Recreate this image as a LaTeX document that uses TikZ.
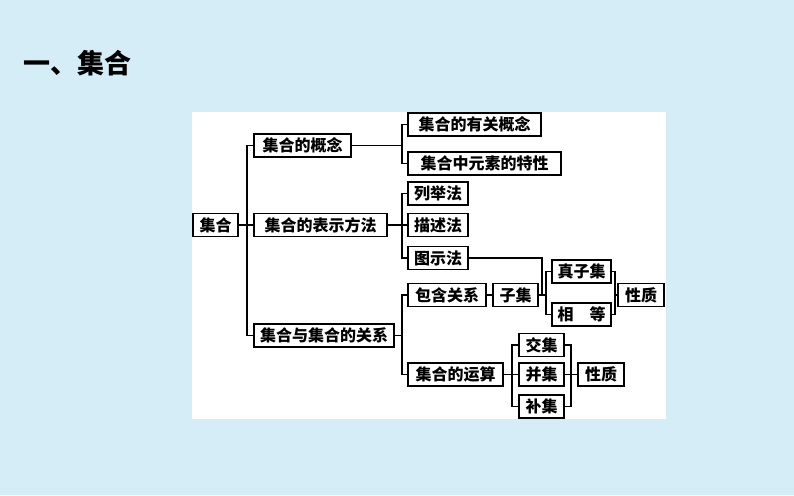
\documentclass[tikz,border=0pt]{standalone}
\usepackage{fontspec}
\setmainfont{Noto Sans CJK SC}
\begin{document}
\begin{tikzpicture}[x=1pt,y=-1pt,
  box/.style={draw=black,line width=1.3pt,fill=white,inner sep=0pt,minimum height=23pt,font=\fontsize{16}{16}\selectfont\bfseries},
  ln/.style={line width=1.3pt}]
\useasboundingbox (0,0) rectangle (794,495);
\fill[fill={rgb,255:red,213;green,237;blue,247}] (0,0) rectangle (794,495);
\fill[white] (192,112) rectangle (666,419);
\node[font=\fontsize{27}{27}\selectfont\bfseries,anchor=west] (title) at (20,63) {一、集合};
% nodes
\node[box,minimum width=45pt] (root) at (215.5,225) {集合};
\node[box,minimum width=97pt] (a) at (302.5,145.5) {集合的概念};
\node[box,minimum width=133pt] (b) at (320.5,225) {集合的表示方法};
\node[box,minimum width=140pt] (c) at (324,335.5) {集合与集合的关系};
\node[box,minimum width=133pt] (a1) at (474.5,124.5) {集合的有关概念};
\node[box,minimum width=153pt] (a2) at (484.5,163.5) {集合中元素的特性};
\node[box,minimum width=60pt] (b1) at (438,193.5) {列举法};
\node[box,minimum width=60pt] (b2) at (438,225) {描述法};
\node[box,minimum width=60pt] (b3) at (438,258) {图示法};
\node[box,minimum width=78pt] (c1) at (447,295) {包含关系};
\node[box,minimum width=45pt] (sub) at (515.5,295) {子集};
\node[box,minimum width=59pt] (p1) at (581.5,271.5) {真子集};
\node[box,minimum width=59pt] (p2) at (581.5,314.5) {相\quad 等};
\node[box,minimum width=46pt] (q1) at (641,295) {性质};
\node[box,minimum width=95pt] (c2) at (455.5,374.5) {集合的运算};
\node[box,minimum width=45pt] (o1) at (541.5,345) {交集};
\node[box,minimum width=45pt] (o2) at (541.5,374.5) {并集};
\node[box,minimum width=45pt] (o3) at (541.5,406.5) {补集};
\node[box,minimum width=46pt] (q2) at (601,374.5) {性质};
% connectors
\coordinate (t) at (247,0);
\draw[ln] (root.east) -- (root.east -| t);
\draw[ln] (a.west) -| (t |- a.west) -- (t |- c.west) -- (c.west);
\draw[ln] (b.west) -- (t |- b.west);
\coordinate (u) at (402,0);
\draw[ln] (a.east) -- (a.east -| u);
\draw[ln] (a1.west) -- (u |- a1.west) -- (u |- a2.west) -- (a2.west);
\draw[ln] (b.east) -- (b2.west);
\draw[ln] (b1.west) -- (u |- b1.west) -- (u |- b3.west) -- (b3.west);
\draw[ln] (c.east) -- (c.east -| u);
\draw[ln] (c1.west) -- (u |- c1.west) -- (u |- c2.west) -- (c2.west);
\draw[ln] (c1.east) -- (sub.west);
\coordinate (v) at (542,0);
\draw[ln] (b3.east) -- (v |- b3.east) -- (v |- sub.east);
\coordinate (w) at (546,0);
\draw[ln] (sub.east) -- (w |- sub.east);
\draw[ln] (p1.west) -- (w |- p1.west) -- (w |- p2.west) -- (p2.west);
\coordinate (w2) at (615,0);
\draw[ln] (p1.east) -- (w2 |- p1.east) -- (w2 |- p2.east) -- (p2.east);
\draw[ln] (w2 |- q1.west) -- (q1.west);
\coordinate (z) at (512,0);
\draw[ln] (c2.east) -- (o2.west);
\draw[ln] (o1.west) -- (z |- o1.west) -- (z |- o3.west) -- (o3.west);
\coordinate (z2) at (571,0);
\draw[ln] (o1.east) -- (z2 |- o1.east) -- (z2 |- o3.east) -- (o3.east);
\draw[ln] (o2.east) -- (q2.west);
\end{tikzpicture}
\end{document}
